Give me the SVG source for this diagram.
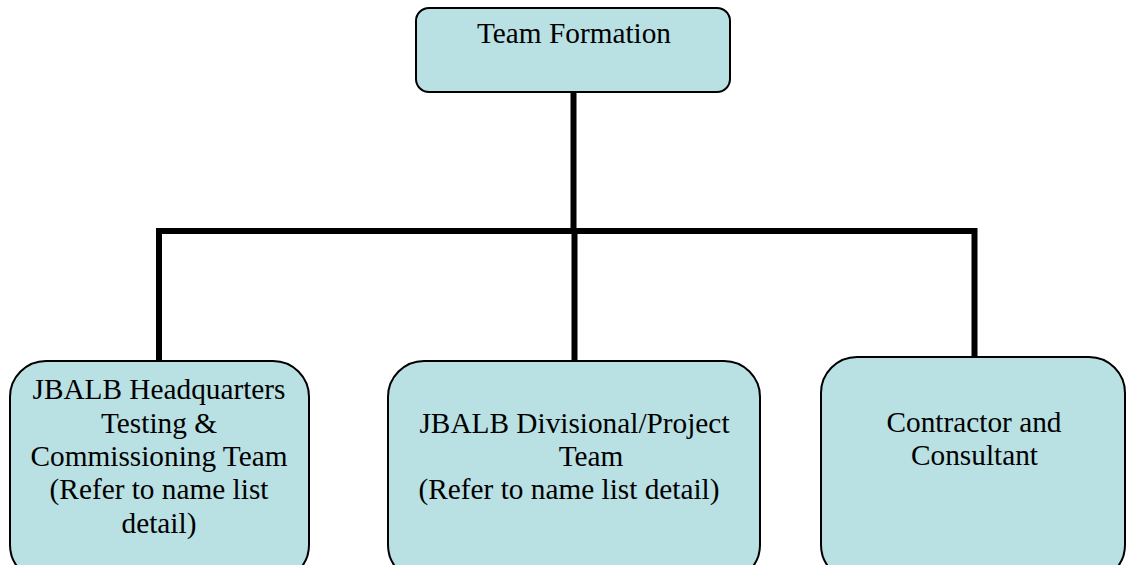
<svg xmlns="http://www.w3.org/2000/svg" width="1126" height="565" viewBox="0 0 1126 565">
<style>
.box{fill:#b9e0e3;stroke:#000;stroke-width:2}
.lbl{font-family:"Liberation Serif","Times New Roman",serif;font-size:29.3px;fill:#000;text-anchor:middle}
.conn{stroke:#000;stroke-width:6;fill:none;stroke-linecap:butt;stroke-linejoin:miter}
</style>
<rect width="1126" height="565" fill="#fff"/>
<g id="connectors">
<path class="conn" d="M573.5,92 V231"/>
<path class="conn" d="M159,364 V231 H974.5 V360"/>
<path class="conn" d="M574.5,231 V364"/>
</g>
<g id="node-team-formation">
<rect class="box" x="416" y="8" width="314" height="84" rx="13"/>
<text class="lbl" x="574" y="42.7">Team Formation</text>
</g>
<g id="node-hq">
<rect class="box" x="10" y="361" width="299" height="220" rx="36"/>
<text class="lbl" x="159" y="399.3">JBALB Headquarters</text>
<text class="lbl" x="159" y="432.7">Testing &amp;</text>
<text class="lbl" x="159" y="466">Commissioning Team</text>
<text class="lbl" x="159" y="499.3">(Refer to name list</text>
<text class="lbl" x="159" y="532.7">detail)</text>
</g>
<g id="node-divisional">
<rect class="box" x="388" y="361" width="372" height="220" rx="36"/>
<text class="lbl" x="574.5" y="432.7">JBALB Divisional/Project</text>
<text class="lbl" x="591" y="466">Team</text>
<text class="lbl" x="569" y="499">(Refer to name list detail)</text>
</g>
<g id="node-contractor">
<rect class="box" x="821" y="357" width="304" height="224" rx="36"/>
<text class="lbl" x="974" y="431.7">Contractor and</text>
<text class="lbl" x="974.5" y="465">Consultant</text>
</g>
</svg>
